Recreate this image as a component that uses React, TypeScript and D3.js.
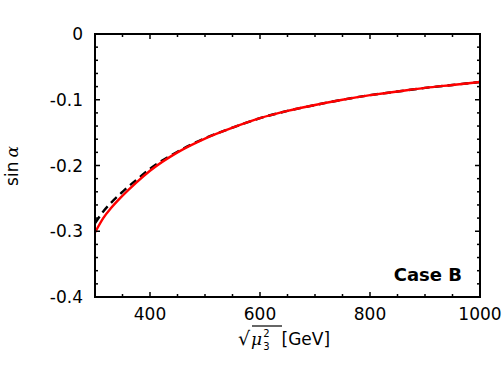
import React from 'react';
import * as d3 from 'd3';

// sqrt(mu3^2) in GeV
const massPoints = [300, 315, 330, 350, 375, 400, 450, 500, 550, 600, 650, 700, 750, 800, 850, 900, 950, 1000];
// sin(alpha), red solid curve
const sinAlphaFull = [-0.302, -0.280, -0.264, -0.246, -0.226, -0.208, -0.180, -0.159, -0.1425, -0.128, -0.117, -0.108, -0.100, -0.093, -0.0875, -0.082, -0.0775, -0.073];
// sin(alpha), black dashed curve (approximation)
const sinAlphaApprox = [-0.288, -0.270, -0.256, -0.240, -0.222, -0.205, -0.179, -0.1585, -0.1425, -0.128, -0.117, -0.108, -0.100, -0.093, -0.0875, -0.082, -0.0775, -0.073];

const xTicks = [400, 600, 800, 1000];
const xMinorTicks = [350, 400, 450, 500, 550, 600, 650, 700, 750, 800, 850, 900, 950];
const yTicks = [0, -0.1, -0.2, -0.3, -0.4];
const yMinorTicks = d3.range(0, 20).map(i => -i * 0.02).filter(v => v > -0.4);

const W = 504;
const H = 378;
const margin = { top: 34, right: 24, bottom: 81, left: 95 };

const font = '"DejaVu Sans", sans-serif';
const mathFont = '"DejaVu Serif", serif';

export default function App() {
  const innerW = W - margin.left - margin.right;
  const innerH = H - margin.top - margin.bottom;

  const x = d3.scaleLinear().domain([300, 1000]).range([0, innerW]);
  const y = d3.scaleLinear().domain([-0.4, 0]).range([innerH, 0]);

  const line = d3.line<number>()
    .x((_, i) => x(massPoints[i]))
    .y(d => y(d))
    .curve(d3.curveMonotoneX);

  const major = 5;
  const minor = 3;
  const fmt = (t: number) => (t === 0 ? '0' : d3.format('.1f')(t).replace('\u2212', '-'));

  return (
    <div style={{ position: 'fixed', left: 0, top: 0 }}>
      <svg width={W} height={H} style={{ display: 'block', background: '#fff' }}>
        <g transform={`translate(${margin.left},${margin.top})`}>
          <path d={line(sinAlphaApprox) || ''} fill="none" stroke="#000" strokeWidth={2.4} strokeDasharray="8,5" />
          <path d={line(sinAlphaFull) || ''} fill="none" stroke="#ff0000" strokeWidth={2.4} />

          {/* ticks, inward on all four sides */}
          {xMinorTicks.map(t => {
            const len = xTicks.includes(t) ? major : minor;
            return (
              <g key={'xt' + t} stroke="#000" strokeWidth={1.5}>
                <line x1={x(t)} x2={x(t)} y1={innerH} y2={innerH - len} />
                <line x1={x(t)} x2={x(t)} y1={0} y2={len} />
              </g>
            );
          })}
          {yMinorTicks.map(t => {
            const isMajor = yTicks.some(v => Math.abs(v - t) < 1e-9);
            const len = isMajor ? major : minor;
            return (
              <g key={'yt' + t} stroke="#000" strokeWidth={1.5}>
                <line x1={0} x2={len} y1={y(t)} y2={y(t)} />
                <line x1={innerW} x2={innerW - len} y1={y(t)} y2={y(t)} />
              </g>
            );
          })}

          <rect x={0} y={0} width={innerW} height={innerH} fill="none" stroke="#000" strokeWidth={2} />

          {xTicks.map(t => (
            <text key={'xl' + t} x={x(t)} y={innerH + 23} textAnchor="middle" fontFamily={font} fontSize={17} fill="#000">
              {t}
            </text>
          ))}
          {yTicks.map(t => (
            <text key={'yl' + t} x={-12} y={y(t)} dy="0.36em" textAnchor="end" fontFamily={font} fontSize={17} fill="#000">
              {fmt(t)}
            </text>
          ))}

          <text x={innerW - 18} y={innerH - 16} textAnchor="end" fontFamily={font} fontSize={18} fontWeight="bold" fill="#000">
            Case B
          </text>
        </g>

        {/* y label: sin alpha */}
        <text transform="translate(18,166) rotate(-90)" textAnchor="middle" fontFamily={font} fontSize={17} fill="#000">
          sin
          <tspan fontFamily={mathFont} fontStyle="italic" dx="4">α</tspan>
        </text>

        {/* x label: sqrt(mu_3^2) [GeV], one text element */}
        <g transform="translate(238,345)" fill="#000">
          <line x1={14} x2={44} y1={-19} y2={-19} stroke="#000" strokeWidth={1.2} />
          <text x={0} y={0} fontFamily={font} fontSize={17}>
            <tspan fontSize={19}>√</tspan>
            <tspan fontFamily={mathFont} fontStyle="italic" dx={1}>μ</tspan>
            <tspan fontSize={10} dx={1} dy={-8}>2</tspan>
            <tspan fontSize={10} dx={-6.4} dy={13}>3</tspan>
            <tspan dx={12} dy={-5}>[GeV]</tspan>
          </text>
        </g>
      </svg>
    </div>
  );
}
